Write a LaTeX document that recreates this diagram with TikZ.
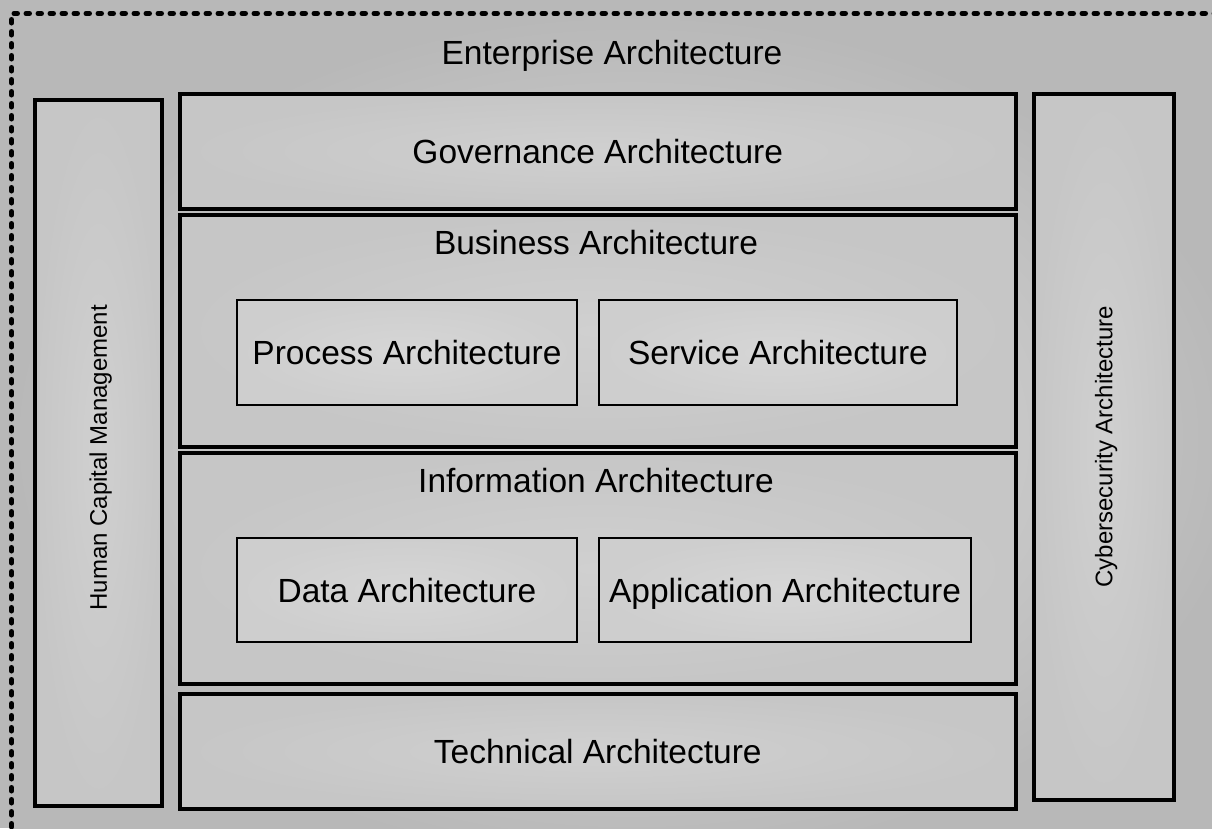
\documentclass[tikz,border=0pt]{standalone}
\usepackage{fontspec}
\setmainfont{Liberation Sans}
\definecolor{bggray}{RGB}{184,184,184}
\definecolor{boxgray}{RGB}{198,198,198}
\definecolor{boxlight}{RGB}{208,208,208}
\definecolor{innergray}{RGB}{206,206,206}
\definecolor{innerlight}{RGB}{214,214,214}
\begin{document}
\begin{tikzpicture}[x=1pt,y=-1pt,
  bigbox/.style={draw=black, line width=3.5pt, rectangle, inner sep=0pt, anchor=north west,
    inner color=boxlight, outer color=boxgray},
  smallbox/.style={draw=black, line width=2pt, rectangle, inner sep=0pt, anchor=north west,
    inner color=innerlight, outer color=innergray},
  bigtext/.style={font=\fontsize{33.5}{40}\selectfont, inner sep=0pt, text height=24pt, text depth=0pt},
  sidetext/.style={font=\fontsize{24}{29}\selectfont, inner sep=0pt, rotate=90, text height=17pt, text depth=0pt}]
\useasboundingbox (0,0) rectangle (1212,828);
\clip (0,0) rectangle (1212,828);
\fill[bggray] (0,0) rectangle (1212,828);
\node[draw=black, line width=5pt, dash pattern=on 3.5pt off 8.5pt, line cap=round,
  rectangle, inner sep=0pt, anchor=north west, minimum width=1240pt, minimum height=850pt,
  inner color=gray!24, outer color=bggray] (ent) at (9,11) {};
\node[bigtext] (enttitle) at (612,52) {Enterprise Architecture};
% side boxes
\node[bigbox, minimum width=127pt, minimum height=706pt] (hcm) at (33,98) {};
\node[sidetext] at ([yshift=-5pt]hcm.center) {Human Capital Management};
\node[bigbox, minimum width=140pt, minimum height=706pt] (cyber) at (1032,92) {};
\node[sidetext] at (cyber.center) {Cybersecurity Architecture};
% governance
\node[bigbox, minimum width=836pt, minimum height=115pt] (gov) at (178,92) {};
\node[bigtext] (govtitle) at (gov.center) {Governance Architecture};
% business
\node[bigbox, minimum width=836pt, minimum height=232pt] (bus) at (178,213) {};
\node[bigtext] (bustitle) at (596,242) {Business Architecture};
\node[smallbox, minimum width=340pt, minimum height=105pt] (proc) at (236,299) {};
\node[bigtext] at (proc.center) {Process Architecture};
\node[smallbox, minimum width=358pt, minimum height=105pt] (serv) at (598,299) {};
\node[bigtext] at (serv.center) {Service Architecture};
% information
\node[bigbox, minimum width=836pt, minimum height=231pt] (info) at (178,451) {};
\node[bigtext] (infotitle) at (596,480) {Information Architecture};
\node[smallbox, minimum width=340pt, minimum height=104pt] (data) at (236,537) {};
\node[bigtext] at (data.center) {Data Architecture};
\node[smallbox, minimum width=372pt, minimum height=104pt] (app) at (598,537) {};
\node[bigtext] at (app.center) {Application Architecture};
% technical
\node[bigbox, minimum width=836pt, minimum height=115pt] (tech) at (178,692) {};
\node[bigtext] (techtitle) at (tech.center) {Technical Architecture};
\end{tikzpicture}
\end{document}
